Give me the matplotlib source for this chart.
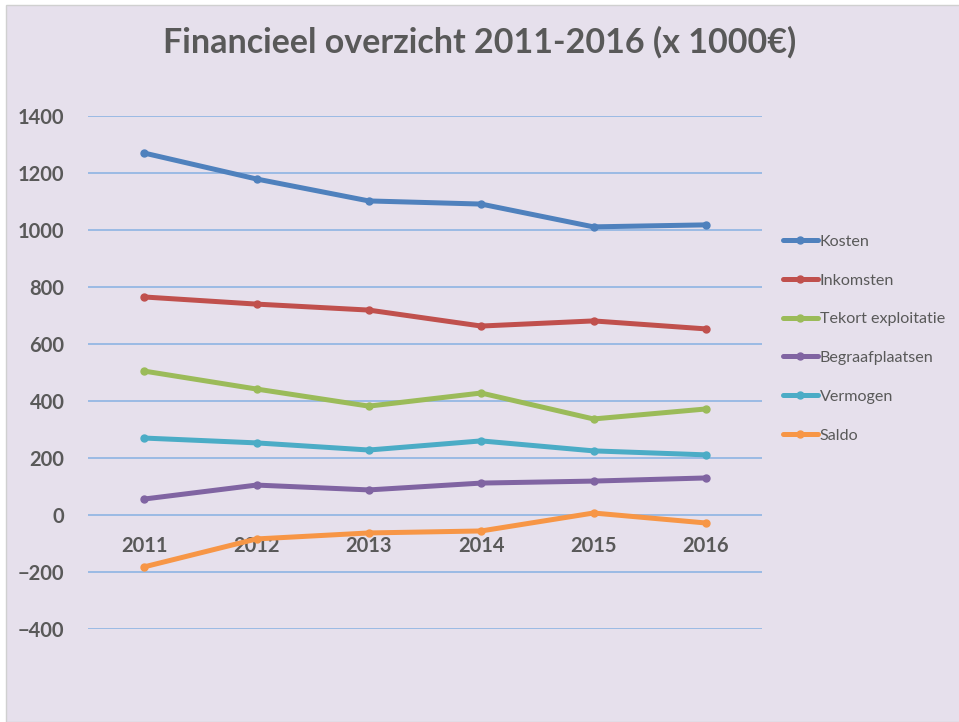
import matplotlib.pyplot as plt
from matplotlib.patches import Rectangle

plt.rcParams['font.family'] = ['Lato', 'DejaVu Sans']

years = ["2011", "2012", "2013", "2014", "2015", "2016"]
kosten = [1270, 1179, 1102, 1091, 1011, 1018]
inkomsten = [765, 740, 719, 663, 681, 653]
tekort = [505, 442, 382, 428, 337, 372]
begraaf = [56, 105, 88, 112, 119, 130]
vermogen = [270, 253, 228, 260, 225, 211]
saldo = [-182, -84, -63, -56, 7, -28]

series = [
    ("Kosten", kosten, "#4F81BD"),
    ("Inkomsten", inkomsten, "#C0504D"),
    ("Tekort exploitatie", tekort, "#9BBB59"),
    ("Begraafplaatsen", begraaf, "#8064A2"),
    ("Vermogen", vermogen, "#4BACC6"),
    ("Saldo", saldo, "#F79646"),
]

W, H = 959, 722
fig = plt.figure(figsize=(W / 100, H / 100), dpi=100, facecolor="white")
# lavender chart area with thin grey border
fig.patches.append(Rectangle((6 / W, 0), 1, 1 - 5 / H, transform=fig.transFigure,
                             facecolor="#E6E0EC", edgecolor="#D0D0D0", lw=1, zorder=-10))

ax = fig.add_axes([88 / W, 1 - 629 / H, (762 - 88) / W, (629 - 116) / H])
ax.set_facecolor("none")

x = list(range(len(years)))
for name, vals, col in series:
    ax.plot(x, vals, color=col, lw=3.6, marker="o", ms=5, label=name,
            solid_capstyle="round", zorder=3)

ax.set_xlim(-0.5, len(years) - 0.5)
ax.set_ylim(-400, 1400)
ax.set_yticks(range(-400, 1401, 200))
ax.grid(axis="y", color="#8EB4E3", lw=1.2)
ax.set_axisbelow(True)
for s in ax.spines.values():
    s.set_visible(False)
ax.tick_params(length=0)
ax.tick_params(axis="y", pad=17)
for t in ax.get_yticklabels():
    t.set_fontweight("bold")
    t.set_fontsize(14.5)
    t.set_color("#595959")

ax.set_xticks([])
for xi, yr in zip(x, years):
    ax.text(xi, -110, yr, ha="center", va="center", fontsize=14.5,
            fontweight="bold", color="#595959", zorder=2)

fig.text(0.5, 1 - 42 / H, "Financieel overzicht 2011-2016 (x 1000€)",
         ha="center", va="center", fontsize=24.5, fontweight="bold", color="#595959")

leg = fig.legend(loc="upper left", bbox_to_anchor=(768 / W, 1 - 220 / H),
                 frameon=False, fontsize=11.6, handlelength=2.2, handletextpad=0.1,
                 labelspacing=1.52, labelcolor="#595959")

fig.savefig("out.png", dpi=100, facecolor=fig.get_facecolor())
